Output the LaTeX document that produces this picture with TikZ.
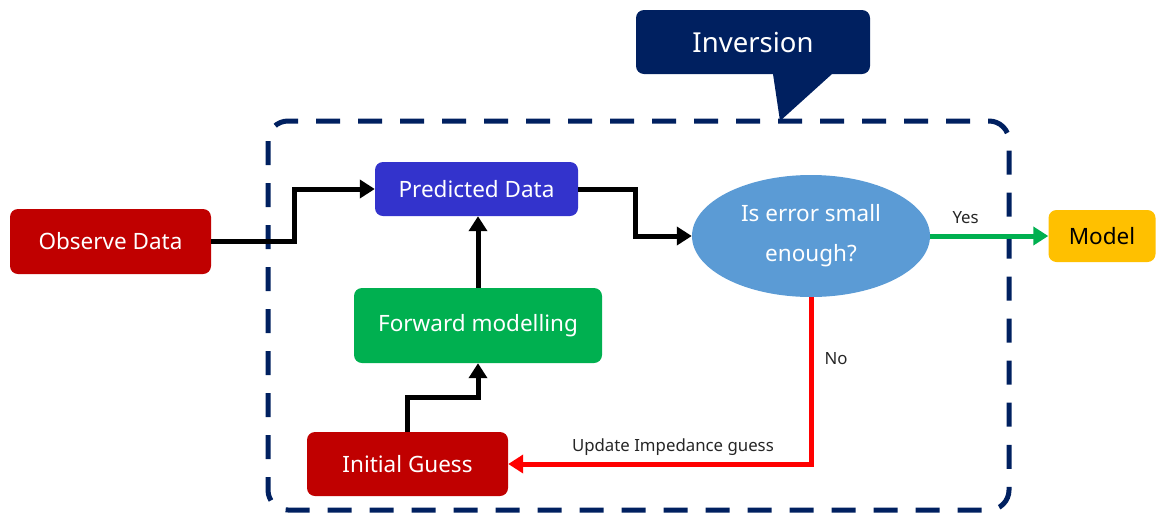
\documentclass[tikz,border=0pt]{standalone}
\usepackage{fontspec}
\setmainfont{Noto Sans}
\usetikzlibrary{arrows.meta,shapes.geometric,calc}
\definecolor{navy}{HTML}{002060}
\definecolor{darkred}{HTML}{C00000}
\definecolor{bluebox}{HTML}{3333CC}
\definecolor{greenbox}{HTML}{00B050}
\definecolor{ellblue}{HTML}{5B9BD5}
\definecolor{gold}{HTML}{FFC000}
\definecolor{brightred}{HTML}{FF0000}
\begin{document}
\begin{tikzpicture}[x=1pt,y=-1pt,
  box/.style={rectangle,rounded corners=8pt,inner sep=0pt,text=white,font=\fontsize{22.5}{27}\selectfont},
  flow/.style={line width=5pt,-{Triangle[length=15pt,width=18pt]}},
  lbl/.style={text=black!85,font=\fontsize{16.8}{20}\selectfont,inner sep=0pt}]
\useasboundingbox (0,0) rectangle (1156,515);
% dashed frame
\draw[navy,line width=5pt,dash pattern=on 24pt off 18pt,rounded corners=20pt] (268,121) rectangle (1009,510);
% callout
\node[box,fill=navy,minimum width=234pt,minimum height=64pt,font=\fontsize{27.5}{33}\selectfont] (inv) at (753,42) {Inversion};
\fill[navy] (773,74) -- (780,121) -- (832,74) -- cycle;
% nodes
\node[box,fill=darkred,minimum width=201pt,minimum height=65pt] (obs) at (110.5,241.5) {Observe Data};
\node[box,fill=bluebox,minimum width=203pt,minimum height=54pt] (pred) at (476.5,189) {Predicted Data};
\node[box,fill=greenbox,minimum width=248pt,minimum height=75pt] (fwd) at (478,325.5) {Forward modelling};
\node[box,fill=darkred,minimum width=201pt,minimum height=64pt] (init) at (407.5,464) {Initial Guess};
\node[ellipse,fill=ellblue,minimum width=238pt,minimum height=122pt,inner sep=0pt,text=white,align=center,font=\fontsize{22.5}{40}\selectfont] (ell) at (811,236) {Is error small\\enough?};
\node[box,fill=gold,text=black,minimum width=107pt,minimum height=52pt] (model) at (1102,236) {Model};
% connectors
\draw[flow] (obs.east) -- ++(83,0) |- (pred.west);
\draw[flow] (pred.east) -- ++(57,0) |- (ell.west);
\draw[flow] (fwd.north) -- (fwd.north |- pred.south);
\draw[flow] (init.north) -- ++(0,-34) -| (fwd.south);
\draw[flow,greenbox] (ell.east) -- (model.west) node[lbl,pos=0.3,above=10pt] {Yes};
\draw[flow,brightred] (ell.south) |- (init.east)
  node[lbl,pos=0.183,right=11pt] {No}
  node[lbl,pos=0.728,above=6pt] {Update Impedance guess};
\end{tikzpicture}
\end{document}
